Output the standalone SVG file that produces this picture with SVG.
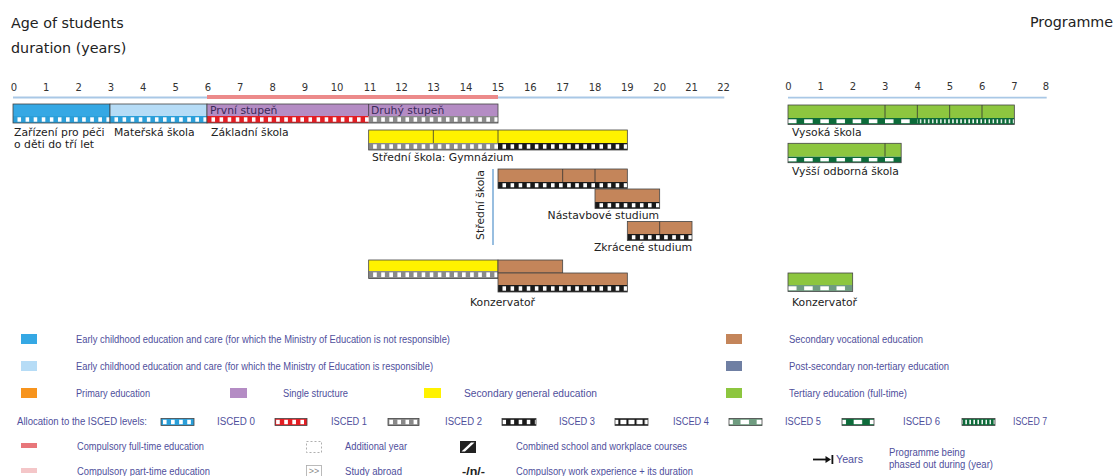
<svg xmlns="http://www.w3.org/2000/svg" width="1118" height="476" viewBox="0 0 1118 476">
<style>
.hdr{font-family:"DejaVu Sans",Verdana,sans-serif;font-size:14.3px;fill:#222}
.ax{font-family:"DejaVu Sans",Verdana,sans-serif;font-size:10px;fill:#333;text-anchor:middle}
.lbl{font-family:"DejaVu Sans",Verdana,sans-serif;font-size:10.8px;fill:#222}
.in{font-family:"DejaVu Sans",Verdana,sans-serif;font-size:10.8px;fill:#3a2a5a}
.lg{font-family:"Liberation Sans",Arial,sans-serif;font-size:10px;fill:#4f4f9c}
.ol{fill:none;stroke:#444;stroke-width:0.8}
.dv{stroke:#333;stroke-width:0.8}
.c0{fill:#2b9fd9}.c1{fill:#e31e24}.c2{fill:#8a8a8a}.c3{fill:#1a1a1a}.c5{fill:#6f9c80}.c6{fill:#0d6b3a}
.blue{fill:#35a8e4}.lblue{fill:#b6dcf6}.purple{fill:#b48cc4}.yellow{fill:#fff200}.brown{fill:#c4855a}.green{fill:#8dc63f}.slate{fill:#6f7fa3}.orange{fill:#f7941d}
</style>
<defs>
<pattern id="w4" patternUnits="userSpaceOnUse" x="13" y="0" width="8.0833" height="1000"><rect x="4.5" y="0" width="3.6" height="1000" fill="#fff"/></pattern>
<pattern id="w4wide" patternUnits="userSpaceOnUse" x="13" y="0" width="8.0833" height="1000"><rect x="1.2" y="0" width="6" height="1000" fill="#fff"/></pattern>
<pattern id="w2L" patternUnits="userSpaceOnUse" x="13" y="0" width="16.1667" height="1000"><rect x="0" y="0" width="8.5" height="1000" fill="#fff"/></pattern>
<pattern id="w8L" patternUnits="userSpaceOnUse" x="13" y="0" width="4.0417" height="1000"><rect x="2.6" y="0" width="1.4" height="1000" fill="#fff"/></pattern>
<pattern id="w2R" patternUnits="userSpaceOnUse" x="788" y="0" width="16.1667" height="1000"><rect x="0" y="0" width="8.5" height="1000" fill="#fff"/></pattern>
<pattern id="w8R" patternUnits="userSpaceOnUse" x="788" y="0" width="4.0417" height="1000"><rect x="2.6" y="0" width="1.4" height="1000" fill="#fff"/></pattern>
</defs>
<rect width="1118" height="476" fill="#fff"/>

<g id="header">
<text class="hdr" x="11" y="28">Age of students</text>
<text class="hdr" x="11" y="53">duration (years)</text>
<text class="hdr" x="1030" y="27">Programme</text>
</g>

<g id="axis-left">
<line x1="13" y1="97.5" x2="724.3" y2="97.5" stroke="#a9c8e6" stroke-width="1.8"/>
<line x1="207" y1="97" x2="498" y2="97" stroke="#ec8a8a" stroke-width="4"/>
<text class="ax" x="14" y="91">0</text><text class="ax" x="46.3" y="91">1</text><text class="ax" x="78.7" y="91">2</text><text class="ax" x="111" y="91">3</text><text class="ax" x="143.3" y="91">4</text><text class="ax" x="175.7" y="91">5</text><text class="ax" x="208" y="91">6</text><text class="ax" x="240.3" y="91">7</text><text class="ax" x="272.7" y="91">8</text><text class="ax" x="305" y="91">9</text><text class="ax" x="337" y="91">10</text><text class="ax" x="370" y="91">11</text><text class="ax" x="401.5" y="91">12</text><text class="ax" x="433.5" y="91">13</text><text class="ax" x="466" y="91">14</text><text class="ax" x="498" y="91">15</text><text class="ax" x="530.3" y="91">16</text><text class="ax" x="562.7" y="91">17</text><text class="ax" x="595" y="91">18</text><text class="ax" x="627.3" y="91">19</text><text class="ax" x="659.7" y="91">20</text><text class="ax" x="691.5" y="91">21</text><text class="ax" x="723.5" y="91">22</text>
</g>

<g id="axis-right">
<line x1="788" y1="97.7" x2="1046.7" y2="97.7" stroke="#a9c8e6" stroke-width="1.8"/>
<text class="ax" x="788.5" y="90">0</text><text class="ax" x="820.8" y="90">1</text><text class="ax" x="853" y="90">2</text><text class="ax" x="885.3" y="90">3</text><text class="ax" x="917.7" y="90">4</text><text class="ax" x="950" y="90">5</text><text class="ax" x="982.3" y="90">6</text><text class="ax" x="1014.5" y="90">7</text><text class="ax" x="1046" y="90">8</text>
</g>

<g id="connectors">
<line x1="493" y1="169" x2="493" y2="245" stroke="#8db7dd" stroke-width="1.8"/>
</g>

<g id="zarizeni">
<rect class="blue" x="13" y="104" width="97" height="12"/>
<rect class="c0" x="13" y="116" width="97" height="7"/>
<rect fill="url(#w4)" x="13" y="117.3" width="97" height="4.4"/>
<rect class="ol" x="13" y="104" width="97" height="19"/>
<text class="lbl" x="14" y="135.5">Zařízení pro péči</text>
<text class="lbl" x="14" y="147.5">o děti do tří let</text>
</g>

<g id="materska">
<rect class="lblue" x="110" y="104" width="97" height="12"/>
<rect class="c0" x="110" y="116" width="97" height="7"/>
<rect fill="url(#w4)" x="110" y="117.3" width="97" height="4.4"/>
<rect class="ol" x="110" y="104" width="97" height="19"/>
<text class="lbl" x="114" y="135.5">Mateřská škola</text>
</g>

<g id="zakladni">
<rect class="purple" x="207" y="104" width="291" height="12"/>
<rect class="c1" x="207" y="116" width="161.67" height="7"/>
<rect class="c2" x="368.67" y="116" width="129.33" height="7"/>
<rect fill="url(#w4)" x="207" y="117.3" width="291" height="4.4"/>
<rect class="ol" x="207" y="104" width="291" height="19"/>
<line class="dv" x1="368.67" y1="104" x2="368.67" y2="116"/>
<text class="in" x="210" y="114">První stupeň</text>
<text class="in" x="371" y="114">Druhý stupeň</text>
<text class="lbl" x="211" y="135.5">Základní škola</text>
</g>

<g id="gymnazium">
<rect class="yellow" x="368.67" y="130" width="258.67" height="13"/>
<rect class="c2" x="368.67" y="143" width="129.33" height="7"/>
<rect class="c3" x="498" y="143" width="129.33" height="7"/>
<rect fill="url(#w4)" x="368.67" y="144.3" width="258.67" height="4.4"/>
<rect class="ol" x="368.67" y="130" width="258.67" height="20"/>
<line class="dv" x1="433.33" y1="130" x2="433.33" y2="143"/>
<line class="dv" x1="498" y1="130" x2="498" y2="143"/>
<text class="lbl" x="372" y="161">Střední škola: Gymnázium</text>
</g>

<g id="stredni-skola">
<text class="lbl" transform="translate(483.5,205) rotate(-90)" text-anchor="middle">Střední škola</text>
</g>

<g id="odborne">
<rect class="brown" x="498" y="169" width="129.33" height="13"/>
<rect class="c3" x="498" y="182" width="129.33" height="6.5"/>
<rect fill="url(#w4)" x="498" y="183.2" width="129.33" height="4.1"/>
<rect class="ol" x="498" y="169" width="129.33" height="19.5"/>
<line class="dv" x1="562.67" y1="169" x2="562.67" y2="182"/>
<line class="dv" x1="595" y1="169" x2="595" y2="182"/>
</g>

<g id="nastavbove">
<rect class="brown" x="595" y="189" width="64.67" height="13"/>
<rect class="c3" x="595" y="202" width="64.67" height="6.5"/>
<rect fill="url(#w4)" x="595" y="203.2" width="64.67" height="4.1"/>
<rect class="ol" x="595" y="189" width="64.67" height="19.5"/>
<text class="lbl" x="659" y="219" text-anchor="end">Nástavbové studium</text>
</g>

<g id="zkracene">
<rect class="brown" x="627.33" y="221.5" width="64.67" height="12.5"/>
<rect class="c3" x="627.33" y="234" width="64.67" height="6.5"/>
<rect fill="url(#w4)" x="627.33" y="235.2" width="64.67" height="4.1"/>
<rect class="ol" x="627.33" y="221.5" width="64.67" height="19"/>
<line class="dv" x1="659.67" y1="221.5" x2="659.67" y2="234"/>
<text class="lbl" x="692" y="250.5" text-anchor="end">Zkrácené studium</text>
</g>

<g id="konzervator-left">
<rect class="yellow" x="368.67" y="260" width="129.33" height="11"/>
<rect class="c2" x="368.67" y="271" width="129.33" height="7.5"/>
<rect fill="url(#w4)" x="368.67" y="272.4" width="129.33" height="4.7"/>
<rect class="ol" x="368.67" y="260" width="129.33" height="18.5"/>
<rect class="brown" x="498" y="260" width="64.67" height="13"/>
<rect class="ol" x="498" y="260" width="64.67" height="13"/>
<rect class="brown" x="498" y="273" width="129.33" height="12"/>
<rect class="c3" x="498" y="285" width="129.33" height="7"/>
<rect fill="url(#w4)" x="498" y="286.3" width="129.33" height="4.4"/>
<rect class="ol" x="498" y="273" width="129.33" height="19"/>
<text class="lbl" x="470" y="306">Konzervatoř</text>
</g>

<g id="vysoka-skola">
<rect class="green" x="788" y="105" width="226.33" height="13"/>
<rect class="c6" x="788" y="118" width="226.33" height="6.5"/>
<rect fill="url(#w2R)" x="788" y="119.3" width="129.33" height="3.9"/>
<rect fill="url(#w8R)" x="917.33" y="119.3" width="97" height="3.9"/>
<rect class="ol" x="788" y="105" width="226.33" height="19.5"/>
<line class="dv" x1="885" y1="105" x2="885" y2="118"/>
<line class="dv" x1="917.33" y1="105" x2="917.33" y2="118"/>
<line class="dv" x1="949.67" y1="105" x2="949.67" y2="118"/>
<line class="dv" x1="982" y1="105" x2="982" y2="118"/>
<text class="lbl" x="792" y="135.5">Vysoká škola</text>
</g>

<g id="vyssi-odborna">
<rect class="green" x="788" y="143.3" width="113.17" height="13.4"/>
<rect class="c6" x="788" y="156.7" width="113.17" height="6"/>
<rect fill="url(#w2R)" x="788" y="158" width="113.17" height="3.4"/>
<rect class="ol" x="788" y="143.3" width="113.17" height="19.4"/>
<line class="dv" x1="885" y1="143.3" x2="885" y2="156.7"/>
<text class="lbl" x="792" y="174.5">Vyšší odborná škola</text>
</g>

<g id="konzervator-right">
<rect class="green" x="788" y="273" width="64.67" height="12"/>
<rect class="c5" x="788" y="285" width="64.67" height="6.5"/>
<rect fill="url(#w2R)" x="788" y="286.3" width="64.67" height="3.9"/>
<rect class="ol" x="788" y="273" width="64.67" height="18.5"/>
<text class="lbl" x="792" y="305.5">Konzervatoř</text>
</g>

<g id="legend">
<rect class="blue" x="21" y="334" width="16" height="10"/>
<text class="lg" x="76" y="342.5" textLength="374" lengthAdjust="spacingAndGlyphs">Early childhood education and care (for which the Ministry of Education is not responsible)</text>
<rect class="lblue" x="21" y="361" width="16" height="10"/>
<text class="lg" x="76" y="369.5" textLength="357" lengthAdjust="spacingAndGlyphs">Early childhood education and care (for which the Ministry of Education is responsible)</text>
<rect class="orange" x="21" y="388" width="16" height="10"/>
<text class="lg" x="76" y="396.5" textLength="74" lengthAdjust="spacingAndGlyphs">Primary education</text>
<rect class="purple" x="230" y="388" width="17" height="10"/>
<text class="lg" x="283" y="396.5" textLength="65" lengthAdjust="spacingAndGlyphs">Single structure</text>
<rect class="yellow" x="424" y="388" width="17" height="10"/>
<text class="lg" x="464" y="396.5" textLength="133" lengthAdjust="spacingAndGlyphs">Secondary general education</text>
<rect class="brown" x="726" y="334" width="16" height="10"/>
<text class="lg" x="789" y="342.5" textLength="134" lengthAdjust="spacingAndGlyphs">Secondary vocational education</text>
<rect class="slate" x="726" y="361" width="16" height="10"/>
<text class="lg" x="789" y="369.5" textLength="160" lengthAdjust="spacingAndGlyphs">Post-secondary non-tertiary education</text>
<rect class="green" x="726" y="388" width="16" height="10"/>
<text class="lg" x="789" y="396.5" textLength="118" lengthAdjust="spacingAndGlyphs">Tertiary education (full-time)</text>

<text class="lg" x="17" y="424.5" textLength="130" lengthAdjust="spacingAndGlyphs">Allocation to the ISCED levels:</text>
<rect class="c0" x="161" y="418.5" width="33" height="7"/><rect fill="url(#w4)" x="161" y="419.8" width="33" height="4.4"/><rect class="ol" x="161" y="418.5" width="33" height="7"/>
<text class="lg" x="217" y="424.5" textLength="38" lengthAdjust="spacingAndGlyphs">ISCED 0</text>
<rect class="c1" x="275" y="418.5" width="32" height="7"/><rect fill="url(#w4)" x="275" y="419.8" width="32" height="4.4"/><rect class="ol" x="275" y="418.5" width="32" height="7"/>
<text class="lg" x="331" y="424.5" textLength="36" lengthAdjust="spacingAndGlyphs">ISCED 1</text>
<rect class="c2" x="388" y="418.5" width="31" height="7"/><rect fill="url(#w4)" x="388" y="419.8" width="31" height="4.4"/><rect class="ol" x="388" y="418.5" width="31" height="7"/>
<text class="lg" x="445" y="424.5" textLength="37" lengthAdjust="spacingAndGlyphs">ISCED 2</text>
<rect class="c3" x="502" y="418.5" width="34" height="7"/><rect fill="url(#w4)" x="502" y="419.8" width="34" height="4.4"/><rect class="ol" x="502" y="418.5" width="34" height="7"/>
<text class="lg" x="559" y="424.5" textLength="36" lengthAdjust="spacingAndGlyphs">ISCED 3</text>
<rect class="c3" x="615" y="418.5" width="33" height="7"/><rect fill="url(#w4wide)" x="615" y="419.8" width="33" height="4.4"/><rect class="ol" x="615" y="418.5" width="33" height="7"/>
<text class="lg" x="673" y="424.5" textLength="36" lengthAdjust="spacingAndGlyphs">ISCED 4</text>
<rect class="c5" x="729" y="418.5" width="33" height="7"/><rect fill="url(#w2L)" x="729" y="419.8" width="33" height="4.4"/><rect class="ol" x="729" y="418.5" width="33" height="7"/>
<text class="lg" x="785" y="424.5" textLength="36" lengthAdjust="spacingAndGlyphs">ISCED 5</text>
<rect class="c6" x="842" y="418.5" width="32" height="7"/><rect fill="url(#w2L)" x="842" y="419.8" width="32" height="4.4"/><rect class="ol" x="842" y="418.5" width="32" height="7"/>
<text class="lg" x="903" y="424.5" textLength="37" lengthAdjust="spacingAndGlyphs">ISCED 6</text>
<rect class="c6" x="962" y="418.5" width="33" height="7"/><rect fill="url(#w8L)" x="962" y="419.8" width="33" height="4.4"/><rect class="ol" x="962" y="418.5" width="33" height="7"/>
<text class="lg" x="1013" y="424.5" textLength="34" lengthAdjust="spacingAndGlyphs">ISCED 7</text>

<rect x="21" y="443" width="16" height="5" fill="#e8767a"/>
<text class="lg" x="77" y="449.5" textLength="127" lengthAdjust="spacingAndGlyphs">Compulsory full-time education</text>
<rect x="306.5" y="441.5" width="15" height="11" fill="none" stroke="#9a9a9a" stroke-width="0.8" stroke-dasharray="2,2"/>
<text class="lg" x="345" y="449.5" textLength="62" lengthAdjust="spacingAndGlyphs">Additional year</text>
<rect x="460" y="441" width="16" height="12" fill="#222"/>
<polygon points="461.5,451.5 471,442.5 474.5,442.5 465,451.5" fill="#fff"/>
<text class="lg" x="516" y="449.5" textLength="171" lengthAdjust="spacingAndGlyphs">Combined school and workplace courses</text>

<rect x="21" y="468" width="16" height="5" fill="#f4c6c8"/>
<text class="lg" x="77" y="474.5" textLength="133" lengthAdjust="spacingAndGlyphs">Compulsory part-time education</text>
<rect x="306.5" y="465.5" width="15" height="11" fill="none" stroke="#aaa" stroke-width="0.8"/>
<text x="314" y="474" text-anchor="middle" font-family="Liberation Sans, Arial, sans-serif" font-size="9" fill="#888">&gt;&gt;</text>
<text class="lg" x="345" y="474.5" textLength="57" lengthAdjust="spacingAndGlyphs">Study abroad</text>
<text x="462" y="474.5" font-family="Liberation Sans, Arial, sans-serif" font-size="10" font-weight="bold" fill="#222" textLength="23" lengthAdjust="spacingAndGlyphs">-/n/-</text>
<text class="lg" x="516" y="474.5" textLength="177" lengthAdjust="spacingAndGlyphs">Compulsory work experience + its duration</text>

<line x1="813" y1="459.5" x2="827" y2="459.5" stroke="#111" stroke-width="1.8"/>
<polygon points="825.5,456 831,459.5 825.5,463" fill="#111"/>
<rect x="831.5" y="455" width="1.8" height="9" fill="#111"/>
<text class="lg" x="836" y="463" textLength="27" lengthAdjust="spacingAndGlyphs">Years</text>
<text class="lg" x="889" y="456" textLength="76" lengthAdjust="spacingAndGlyphs">Programme being</text>
<text class="lg" x="889" y="468" textLength="104" lengthAdjust="spacingAndGlyphs">phased out during (year)</text>
</g>
</svg>
